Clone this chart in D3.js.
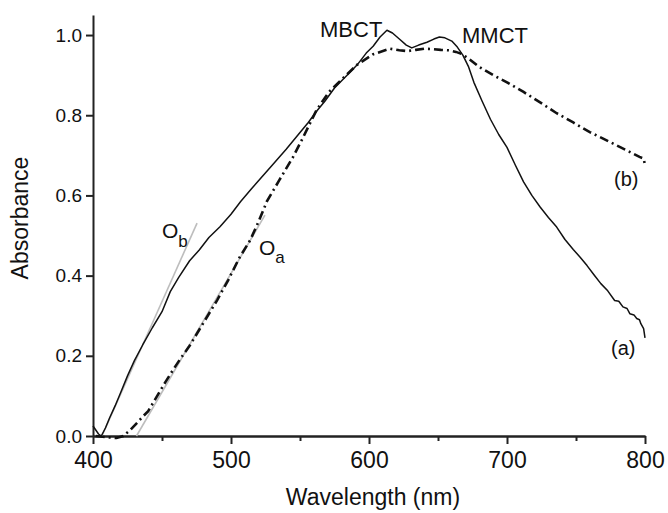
<!DOCTYPE html>
<html lang="en">
<head>
<meta charset="UTF-8">
<title>Absorbance vs wavelength</title>
<script src="https://d3js.org/d3.v7.min.js"></script>
<style>
html, body { margin: 0; padding: 0; background: white; }
body { font-family: 'Liberation Sans', Arial, sans-serif; }
.x-axis text { font-size: 23px; fill: #111; }
.y-axis text { font-size: 19px; fill: #111; }
.x-axis path, .y-axis path, .x-axis line, .y-axis line, .x-minor line, .x-minor path { stroke: #222; stroke-width: 2; }
.axis-title { font-size: 23px; fill: #111; }
.note { font-size: 22px; fill: #111; }
</style>
</head>
<body>
<div id="chart"></div>
<script>

// --------------------------------------
// Data
// --------------------------------------

// curve (a) - solid
const waveA = [400, 402, 404, 406, 409, 412, 416, 420, 425, 430, 436, 443, 450, 456, 462, 470, 477, 484, 492, 500,
  507, 515, 522, 530, 540, 550, 556, 562, 568, 575, 585, 592, 598, 603, 608, 613, 617, 622, 627, 631,
  636, 642, 647, 651, 655, 660, 664, 668, 672, 676, 682, 688, 694, 700, 706, 712, 718, 724, 730, 736,
  742, 748, 753, 758, 763, 768, 773, 778, 781, 784, 787, 789, 792, 794, 796, 797, 799, 800];
const absA = [0.025, 0.015, 0.005, 0.0, 0.02, 0.045, 0.075, 0.108, 0.15, 0.188, 0.227, 0.27, 0.31, 0.36, 0.395, 0.437, 0.464, 0.495, 0.522, 0.553,
  0.585, 0.617, 0.645, 0.676, 0.715, 0.757, 0.782, 0.81, 0.835, 0.868, 0.903, 0.928, 0.955, 0.972, 0.995, 1.012, 1.005, 0.99, 0.975, 0.968,
  0.975, 0.982, 0.99, 0.995, 0.993, 0.985, 0.97, 0.95, 0.922, 0.882, 0.835, 0.79, 0.752, 0.72, 0.676, 0.634, 0.6, 0.571, 0.545, 0.521,
  0.49, 0.465, 0.446, 0.425, 0.402, 0.38, 0.362, 0.338, 0.336, 0.322, 0.318, 0.305, 0.302, 0.293, 0.29, 0.28, 0.268, 0.245];

// curve (b) - dash dot
const waveB = [402, 410, 417, 422, 427, 432, 436, 440, 446, 452, 458, 464, 470, 480, 490, 498, 506, 514, 520, 526,
  535, 545, 552, 562, 571, 579, 591, 603, 615, 622, 628, 634, 640, 646, 652, 658, 663, 667,
  672, 680, 690, 700, 712, 724, 736, 748, 760, 770, 777, 787, 796, 799, 800];
const absB = [0.0, -0.003, -0.005, 0.0, 0.015, 0.033, 0.048, 0.062, 0.097, 0.132, 0.165, 0.196, 0.225, 0.282, 0.339, 0.389, 0.444, 0.489, 0.535, 0.585,
  0.638, 0.696, 0.743, 0.813, 0.858, 0.885, 0.925, 0.952, 0.966, 0.962, 0.96, 0.963, 0.966, 0.965, 0.963, 0.962, 0.958, 0.953,
  0.942, 0.92, 0.9, 0.882, 0.858, 0.832, 0.805, 0.782, 0.758, 0.741, 0.729, 0.712, 0.696, 0.692, 0.676];

// onset tangent lines
const tangentB = [[406.5, 0.0], [475.4, 0.531]];
const tangentA = [[431.5, 0.0], [524.6, 0.551]];

const xTicks = [400, 500, 600, 700, 800];
const xMinorTicks = [450, 550, 650, 750];
const yTicks = [0.0, 0.2, 0.4, 0.6, 0.8, 1.0];

// --------------------------------------
// Size and scales
// --------------------------------------

let totalWidth = 668;
let totalHeight = 513;
let margin = {top: 15, right: 23, bottom: 77, left: 93};

let svg = d3.select('#chart')
  .append("svg")
  .attr("width", totalWidth)
  .attr("height", totalHeight);

let x = d3.scaleLinear()
  .domain([400, 800])
  .range([margin.left, totalWidth - margin.right]);

let y = d3.scaleLinear()
  .domain([0, 1.05])
  .range([totalHeight - margin.bottom, margin.top]);

// --------------------------------------
// Axes
// --------------------------------------

svg.append("g")
  .attr("class", "x-minor")
  .attr("transform", `translate(0, ${y(0)})`)
  .call(d3.axisBottom(x).tickValues(xMinorTicks).tickSize(5).tickSizeOuter(0).tickFormat(""));

svg.append("g")
  .attr("class", "x-axis")
  .attr("transform", `translate(0, ${y(0)})`)
  .call(d3.axisBottom(x).tickValues(xTicks).tickSize(8).tickSizeOuter(0).tickPadding(8).tickFormat(d3.format("d")))
  .call(g => g.selectAll("text").attr("font-family", null));

svg.append("g")
  .attr("class", "y-axis")
  .attr("transform", `translate(${x(400)}, 0)`)
  .call(d3.axisLeft(y).tickValues(yTicks).tickSize(7).tickSizeOuter(0).tickPadding(4).tickFormat(d3.format(".1f")))
  .call(g => g.selectAll("text").attr("font-family", null));

svg.append("text")
  .attr("class", "axis-title")
  .attr("text-anchor", "middle")
  .attr("x", 373)
  .attr("y", 505)
  .text("Wavelength (nm)");

svg.append("text")
  .attr("class", "axis-title")
  .attr("text-anchor", "middle")
  .attr("transform", "translate(28, 218) rotate(-90)")
  .text("Absorbance");

// --------------------------------------
// Lines
// --------------------------------------

let line = d3.line()
  .x(d => x(d[0]))
  .y(d => y(d[1]));

// tangents first so the curves sit on top
[tangentB, tangentA].forEach(t => {
  svg.append("path")
    .attr("d", line(t))
    .attr("fill", "none")
    .attr("stroke", "#bdbdbd")
    .attr("stroke-width", 1.6);
});

svg.append("path")
  .attr("d", line(waveB.map((w, i) => [w, absB[i]])))
  .attr("fill", "none")
  .attr("stroke", "#111")
  .attr("stroke-width", 2.6)
  .attr("stroke-dasharray", "9,4,2,4");

svg.append("path")
  .attr("d", line(waveA.map((w, i) => [w, absA[i]])))
  .attr("fill", "none")
  .attr("stroke", "#111")
  .attr("stroke-width", 1.5)
  .attr("stroke-linejoin", "round");

// --------------------------------------
// Annotations
// --------------------------------------

svg.append("text").attr("class", "note").attr("x", 320).attr("y", 37).text("MBCT");
svg.append("text").attr("class", "note").attr("x", 462).attr("y", 43).text("MMCT");
svg.append("text").attr("class", "note").attr("x", 614).attr("y", 186).style("font-size", "20px").text("(b)");
svg.append("text").attr("class", "note").attr("x", 611).attr("y", 355).style("font-size", "20px").text("(a)");

let ob = svg.append("text").attr("class", "note").attr("x", 162).attr("y", 238).style("font-size", "21px");
ob.append("tspan").text("O");
ob.append("tspan").attr("dy", 9).style("font-size", "17px").text("b");

let oa = svg.append("text").attr("class", "note").attr("x", 259).attr("y", 255).style("font-size", "21px");
oa.append("tspan").text("O");
oa.append("tspan").attr("dy", 8).style("font-size", "17px").text("a");

</script>
</body>
</html>
